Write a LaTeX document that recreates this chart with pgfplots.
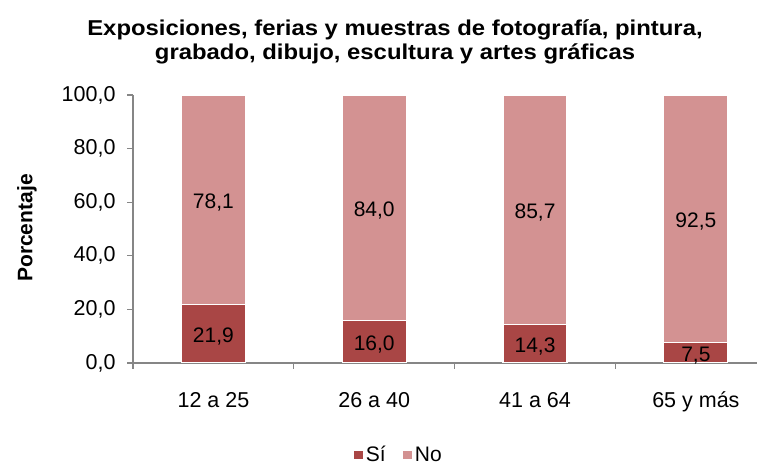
\documentclass[border=0pt]{standalone}
\usepackage{fontspec}
\setmainfont{Liberation Sans}
\newfontfamily\titlefont{Liberation Sans}[FakeStretch=1.11]
\usepackage{pgfplots}
\pgfplotsset{compat=1.18}
\definecolor{si}{HTML}{A94645}
\definecolor{no}{HTML}{D39292}
\definecolor{axisgray}{HTML}{868686}
\begin{document}
\begin{tikzpicture}
\useasboundingbox (0pt,0pt) rectangle (757pt,465pt);
\begin{axis}[
  at={(133pt,102pt)}, anchor=south west,
  scale only axis, width=624pt, height=268pt,
  ybar stacked, bar width=64pt,
  xmin=-0.5, xmax=3.38, ymin=0, ymax=100,
  xtick={0,1,2,3},
  xticklabels={12 a 25, 26 a 40, 41 a 64, 65 y más},
  minor xtick={-0.5,0.5,1.5,2.5},
  ytick={0,20,40,60,80,100},
  axis x line*=bottom, axis y line*=left,
  axis line style={axisgray, line width=1.2pt, -},
  tick align=outside, tick pos=lower,
  major tick length=6pt, minor tick length=6pt,
  major x tick style={draw=none},
  tick style={axisgray, line width=1.2pt},
  minor x tick style={axisgray, line width=1.2pt},
  tick label style={font=\fontsize{21.5}{24}\selectfont},
  /pgf/number format/assume math mode=true,
  yticklabel style={xshift=-8pt, /pgf/number format/.cd, fixed, fixed zerofill, precision=1, use comma},
  xticklabel style={yshift=-18pt, text height=17pt, text depth=5pt},
  visualization depends on=rawy\as\rawy,
  nodes near coords={\pgfmathprintnumber[fixed, fixed zerofill, precision=1, use comma, assume math mode=true]{\rawy}},
  every node near coord/.append style={font=\fontsize{21}{24}\selectfont, anchor=center, yshift=-3pt},
  legend style={at={(0.425,-0.343)}, anchor=center, draw=none, legend columns=2,
    font=\fontsize{21}{24}\selectfont,
    /tikz/every even column/.append style={column sep=14pt}},
  legend image code/.code={\fill[#1] (0pt,-5pt) rectangle (10pt,5pt);},
]
\addplot[fill=si, draw=white, line width=1.2pt] coordinates {(0,21.9) (1,16.0) (2,14.3) (3,7.5)};
\addplot[fill=no, draw=white, line width=1.2pt] coordinates {(0,78.1) (1,84.0) (2,85.7) (3,92.5)};
\legend{Sí, No}
\end{axis}
\node[rotate=90, font=\bfseries\fontsize{21}{24}\selectfont] at (27pt,237pt) {Porcentaje};
\node[font=\titlefont\bfseries\fontsize{21.5}{23.5}\selectfont, align=center] at (395pt,423pt)
  {Exposiciones, ferias y muestras de fotografía, pintura,\\grabado, dibujo, escultura y artes gráficas};
\end{tikzpicture}
\end{document}
